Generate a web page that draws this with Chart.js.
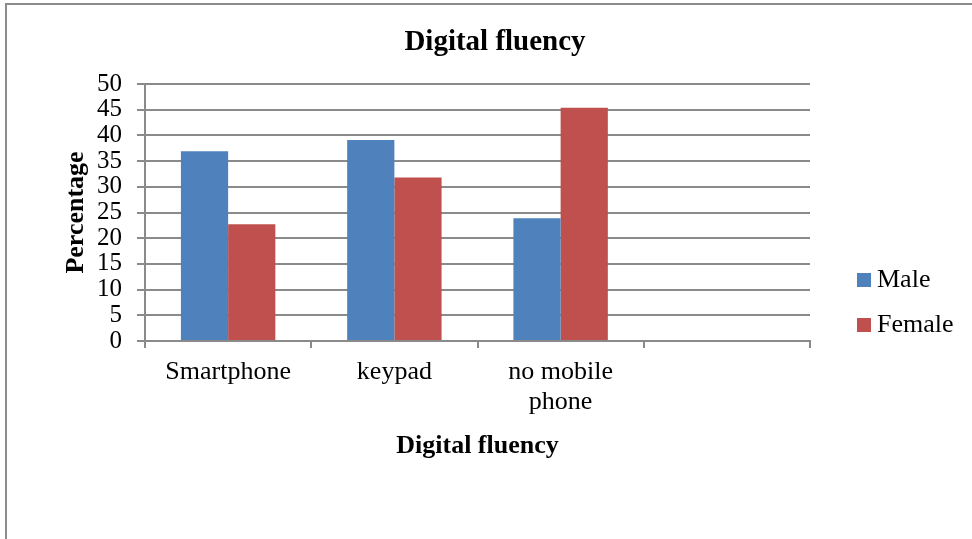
<!DOCTYPE html>
<html>
<head>
<meta charset="utf-8">
<title>Digital fluency</title>
<script src="https://cdn.jsdelivr.net/npm/chart.js@4.4.1/dist/chart.umd.min.js"></script>
<style>
  html, body { margin: 0; padding: 0; background: #fff; overflow: hidden; }
  #frame { position: absolute; left: 5px; top: 3px; width: 1000px; height: 600px;
           border-left: 2px solid #8c8c8c; border-top: 2px solid #8c8c8c; }
  #chart { position: absolute; left: 0; top: 0; }
</style>
</head>
<body>
<div id="frame"></div>
<canvas id="chart" width="972" height="539"></canvas>
<script>
const categories = ['Smartphone', 'keypad', ['no mobile', 'phone'], ''];
const maleValues = [36.9, 39.1, 23.9, null];
const femaleValues = [22.7, 31.8, 45.4, null];
const seriesNames = ['Male', 'Female'];
const seriesColors = ['#4F81BD', '#C0504D'];
const yMin = 0;
const yMax = 50;
const yStep = 5;

const chartTitle = 'Digital fluency';
const xTitle = 'Digital fluency';
const yTitle = 'Percentage';

const fontFamily = "'Liberation Serif', 'Times New Roman', serif";
const gridColor = '#8a8a8a';

// heading and the side legend are painted by hand so they land where the layout needs them
const decorations = {
  id: 'decorations',
  afterDraw(chart) {
    const { ctx, chartArea } = chart;
    ctx.save();
    ctx.textBaseline = 'middle';
    ctx.fillStyle = '#000';
    ctx.font = 'bold 29px ' + fontFamily;
    ctx.textAlign = 'center';
    ctx.fillText(chartTitle, 495, 43);

    ctx.font = '26px ' + fontFamily;
    ctx.textAlign = 'left';
    chart.data.datasets.forEach((ds, i) => {
      const x = chartArea.right + 47;
      const y = chartArea.bottom - 61 + i * 45;
      ctx.fillStyle = ds.backgroundColor;
      ctx.fillRect(x, y - 7, 14, 14);
      ctx.fillStyle = '#000';
      ctx.fillText(ds.label, x + 20, y);
    });
    ctx.restore();
  }
};

const ctx = document.getElementById('chart').getContext('2d');
const chart = new Chart(ctx, {
  type: 'bar',
  data: {
    labels: categories,
    datasets: [
      {
        label: seriesNames[0],
        data: maleValues,
        backgroundColor: seriesColors[0],
        borderWidth: 0,
        categoryPercentage: 0.568,
        barPercentage: 1
      },
      {
        label: seriesNames[1],
        data: femaleValues,
        backgroundColor: seriesColors[1],
        borderWidth: 0,
        categoryPercentage: 0.568,
        barPercentage: 1
      }
    ]
  },
  options: {
    responsive: false,
    animation: false,
    layout: { padding: { left: 0, right: 162, top: 84, bottom: 0 } },
    plugins: {
      legend: { display: false },
      title: { display: false },
      tooltip: { enabled: false }
    },
    scales: {
      x: {
        grid: { offset: true, drawOnChartArea: false, tickLength: 7, color: gridColor, lineWidth: 2 },
        border: { color: gridColor, width: 2 },
        ticks: {
          color: '#000',
          font: { family: fontFamily, size: 26, lineHeight: 1.15 },
          padding: 9,
          maxRotation: 0,
          autoSkip: false
        },
        title: {
          display: true,
          text: xTitle,
          color: '#000',
          font: { family: fontFamily, size: 26, weight: 'bold' },
          padding: { top: 0, bottom: 77 }
        },
        afterFit(scale) { scale.height = 198; }
      },
      y: {
        min: yMin,
        max: yMax,
        grid: { color: gridColor, lineWidth: 2, tickLength: 8 },
        border: { color: gridColor, width: 2 },
        ticks: {
          stepSize: yStep,
          autoSkip: false,
          color: '#000',
          font: { family: fontFamily, size: 25, lineHeight: 1 },
          padding: 15
        },
        title: {
          display: true,
          text: yTitle,
          color: '#000',
          font: { family: fontFamily, size: 26, weight: 'bold' },
          padding: { top: 61, bottom: 0 }
        },
        afterFit(scale) { scale.width = 145; }
      }
    }
  },
  plugins: [decorations]
});
</script>
</body>
</html>
